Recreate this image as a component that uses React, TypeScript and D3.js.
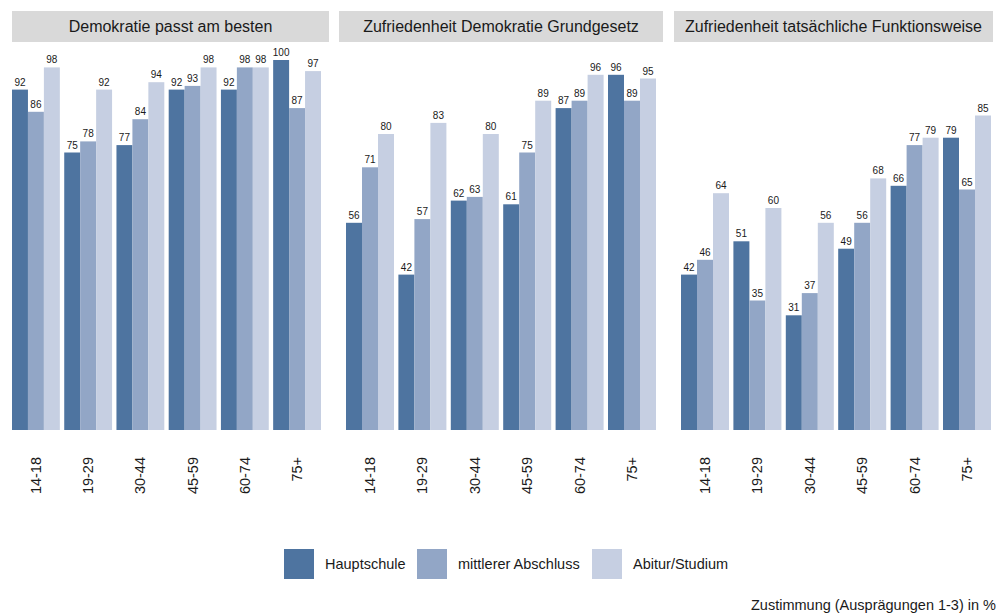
import React from 'react'
import * as d3 from 'd3'

const width = 1003
const height = 614
const font = '"Liberation Sans", Arial, sans-serif'

// chart data
const facets = [
  'Demokratie passt am besten',
  'Zufriedenheit Demokratie Grundgesetz',
  'Zufriedenheit tatsächliche Funktionsweise',
]
const ageGroups = ['14-18', '19-29', '30-44', '45-59', '60-74', '75+']
const education = ['Hauptschule', 'mittlerer Abschluss', 'Abitur/Studium']
const colors = ['#4e74a0', '#92a6c6', '#c6cfe2']

// values[facet][ageGroup][education]
const demokratiePasst = [
  [92, 86, 98], [75, 78, 92], [77, 84, 94], [92, 93, 98], [92, 98, 98], [100, 87, 97],
]
const grundgesetz = [
  [56, 71, 80], [42, 57, 83], [62, 63, 80], [61, 75, 89], [87, 89, 96], [96, 89, 95],
]
const funktionsweise = [
  [42, 46, 64], [51, 35, 60], [31, 37, 56], [49, 56, 68], [66, 77, 79], [79, 65, 85],
]
const values = [demokratiePasst, grundgesetz, funktionsweise]
const caption = 'Zustimmung (Ausprägungen 1-3) in %'

// layout of the three panels (bar range and strip range)
const panels = [
  { bars: [12, 321], strip: [12, 329] },
  { bars: [346, 656], strip: [339, 663] },
  { bars: [681, 991], strip: [674, 993] },
]
const stripTop = 11
const stripBottom = 42
const baseY = 430

const y = d3.scaleLinear().domain([0, 100]).range([baseY, 60])

const legendX = [284, 417, 592]

function Panel({ idx }: { idx: number }) {
  const p = panels[idx]
  const x = d3.scaleBand<string>()
    .domain(ageGroups)
    .range(p.bars as [number, number])
    .paddingInner(0.084)
    .paddingOuter(0)
  const inner = d3.scaleBand<string>()
    .domain(education)
    .range([0, x.bandwidth()])
    .padding(0)

  return (
    <g>
      <rect x={p.strip[0]} y={stripTop} width={p.strip[1] - p.strip[0]} height={stripBottom - stripTop} fill="#d9d9d9" />
      <text x={(p.strip[0] + p.strip[1]) / 2} y={(stripTop + stripBottom) / 2} dy="0.35em"
        textAnchor="middle" fontSize={16} fill="#1a1a1a">{facets[idx]}</text>
      {ageGroups.map((age, i) => (
        <g key={age} transform={`translate(${x(age)},0)`}>
          {education.map((ed, j) => {
            const v = values[idx][i][j]
            const bx = inner(ed) as number
            return (
              <g key={ed}>
                <rect x={bx} y={y(v)} width={inner.bandwidth()} height={baseY - y(v)} fill={colors[j]} />
                <text x={bx + inner.bandwidth() / 2} y={y(v) - 4} textAnchor="middle" fontSize={10} fill="#1a1a1a">{v}</text>
              </g>
            )
          })}
          <text transform={`translate(${x.bandwidth() / 2},457) rotate(-90)`} textAnchor="end" dy="0.35em"
            fontSize={14.5} fill="#1a1a1a">{age}</text>
        </g>
      ))}
    </g>
  )
}

export default function App() {
  return (
    <svg width={width} height={height} style={{ position: 'absolute', left: 0, top: 0, fontFamily: font }}>
      <rect width={width} height={height} fill="#fff" />
      {facets.map((f, i) => <Panel key={f} idx={i} />)}
      {education.map((ed, j) => (
        <g key={ed}>
          <rect x={legendX[j]} y={549} width={30} height={30} fill={colors[j]} />
          <text x={legendX[j] + 41} y={569} fontSize={14.5} fill="#1a1a1a">{ed}</text>
        </g>
      ))}
      <text x={996} y={610} textAnchor="end" fontSize={14.5} fill="#1a1a1a">{caption}</text>
    </svg>
  )
}
